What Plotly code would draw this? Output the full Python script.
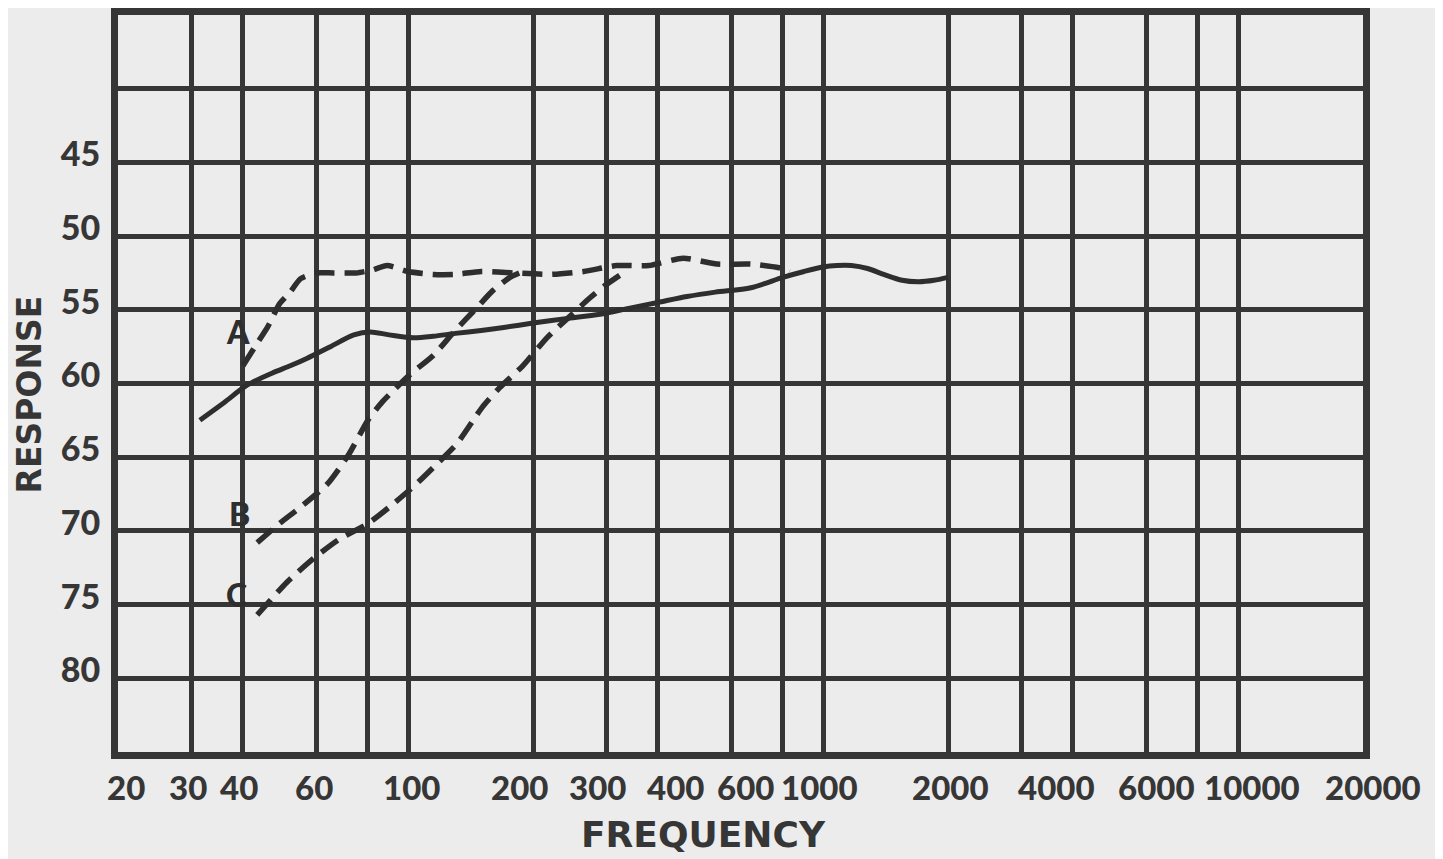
import math
import plotly.graph_objects as go

# ---- data ----
freq_solid_a = [31.5, 36, 41, 47, 52, 57, 65, 74, 81, 90, 103, 115, 130, 150, 170, 200, 240, 290, 340, 400, 470, 550, 670, 800, 900, 1000, 1080, 1170, 1280, 1400, 1550, 1700, 1850, 2000]
resp_solid_a = [62.5, 61.3, 60.1, 59.3, 58.8, 58.3, 57.5, 56.7, 56.5, 56.7, 56.9, 56.8, 56.6, 56.4, 56.2, 55.9, 55.6, 55.3, 54.9, 54.5, 54.1, 53.8, 53.5, 52.8, 52.4, 52.1, 52.0, 52.0, 52.2, 52.6, 53.0, 53.1, 53.0, 52.8]

freq_dash_a = [40, 43, 46, 49, 52, 55, 60, 66, 75, 82, 89, 100, 115, 130, 150, 180, 220, 265, 318, 380, 460, 555, 670, 800, 830]
resp_dash_a = [58.8, 57.4, 56.1, 54.6, 53.8, 52.9, 52.5, 52.5, 52.5, 52.3, 52.0, 52.4, 52.6, 52.6, 52.4, 52.5, 52.6, 52.4, 52.0, 52.0, 51.5, 51.9, 51.9, 52.2, 52.4]

freq_dash_b = [43.3, 49, 55, 64, 72, 80, 87, 101, 115, 129, 146, 160, 176, 189]
resp_dash_b = [70.8, 69.5, 68.4, 66.8, 64.8, 62.5, 61.2, 59.4, 58.1, 56.5, 54.9, 53.7, 52.8, 52.4]

freq_dash_c = [43.3, 51, 59, 68, 80, 90, 103, 115, 131, 151, 166, 189, 216, 242, 274, 300, 330]
resp_dash_c = [75.7, 73.5, 71.9, 70.6, 69.5, 68.4, 67.0, 65.7, 64.1, 61.6, 60.3, 58.8, 56.9, 55.6, 54.2, 53.3, 52.5]

curve_labels = ["A", "B", "C"]
curve_label_freq = [38.9, 39.3, 38.7]
curve_label_resp = [56.5, 68.8, 74.3]

x_tick_vals = [20, 30, 40, 60, 100, 200, 300, 400, 600, 1000, 2000, 4000, 6000, 10000, 20000]
x_tick_text = ["20", "30", "40", "60", "100", "200", "300", "400", "600", "1000", "2000", "4000", "6000", "10000", "20000"]
x_grid_vals = [30, 40, 60, 80, 100, 200, 300, 400, 600, 800, 1000, 2000, 3000, 4000, 6000, 8000, 10000]

y_tick_vals = [40, 45, 50, 55, 60, 65, 70, 75, 80]
y_tick_text = ["", "45", "50", "55", "60", "65", "70", "75", "80"]

# ---- styling ----
INK = "#363636"
PAPER = "#ececec"
FONT = "Lato"
TITLE_FONT = "DejaVu Sans"
# hand-lettered labels sit a little off their grid lines (pixels)
label_nudge = {"20": 8, "30": -3, "40": -4, "60": -2, "100": 3, "200": -14, "300": -9,
               "400": 18, "600": 14, "1000": -4, "2000": 2, "4000": -16, "6000": 10,
               "10000": 14, "20000": 10}

fig = go.Figure()

fig.add_trace(go.Scatter(x=freq_solid_a, y=resp_solid_a, mode="lines",
                         line=dict(color="#2e2e2e", width=5, shape="spline", smoothing=0.8),
                         showlegend=False, hoverinfo="skip"))
for fx, ry in [(freq_dash_a, resp_dash_a), (freq_dash_b, resp_dash_b), (freq_dash_c, resp_dash_c)]:
    fig.add_trace(go.Scatter(x=fx, y=ry, mode="lines",
                             line=dict(color="#2e2e2e", width=5.5, dash="20px,10px", shape="spline", smoothing=0.6),
                             showlegend=False, hoverinfo="skip"))

for t, fx, ry in zip(curve_labels, curve_label_freq, curve_label_resp):
    fig.add_annotation(x=math.log10(fx), y=ry, xref="x", yref="y", text=t, showarrow=False,
                       font=dict(family=FONT, size=32, color="#2e2e2e", weight=900),
                       xanchor="center", yanchor="middle")

# x tick labels
for v, t in zip(x_tick_vals, x_tick_text):
    fig.add_annotation(x=math.log10(v), y=0, xref="x", yref="paper", text=t, showarrow=False,
                       xshift=label_nudge.get(t, 0), yshift=-35,
                       font=dict(family=FONT, size=33, color=INK, weight=900),
                       xanchor="center", yanchor="middle")

fig.add_annotation(x=-0.0707, y=0.485, xref="paper", yref="paper", text="RESPONSE",
                   showarrow=False, textangle=-90,
                   font=dict(family=TITLE_FONT, size=33, color=INK, weight="bold"),
                   xanchor="center", yanchor="middle")
fig.add_annotation(x=0.4705, y=-0.112, xref="paper", yref="paper", text="FREQUENCY",
                   showarrow=False,
                   font=dict(family=TITLE_FONT, size=36, color=INK, weight="bold"),
                   xanchor="center", yanchor="middle")

fig.update_xaxes(type="log", range=[math.log10(20), math.log10(20000)],
                 tickmode="array", tickvals=x_tick_vals, ticktext=x_tick_text,
                 showticklabels=False,
                 showgrid=False, ticks="",
                 minor=dict(tickmode="array", tickvals=x_grid_vals, showgrid=True,
                            gridcolor=INK, gridwidth=5, ticks=""),
                 showline=True, linecolor=INK, linewidth=7, mirror=True, zeroline=False)
fig.update_yaxes(range=[85, 35],
                 tickmode="array", tickvals=y_tick_vals, ticktext=y_tick_text,
                 showgrid=True, gridcolor=INK, gridwidth=5, ticks="",
                 ticklabelstandoff=4, ticklabelshift=8,
                 tickfont=dict(family=FONT, size=34, color=INK, weight=900),
                 showline=True, linecolor=INK, linewidth=7, mirror=True, zeroline=False)

fig.update_layout(width=1435, height=851,
                  margin=dict(l=110, r=80, t=0, b=107),
                  paper_bgcolor=PAPER, plot_bgcolor=PAPER,
                  font=dict(family=FONT, color=INK))

fig.write_html("out.html")
